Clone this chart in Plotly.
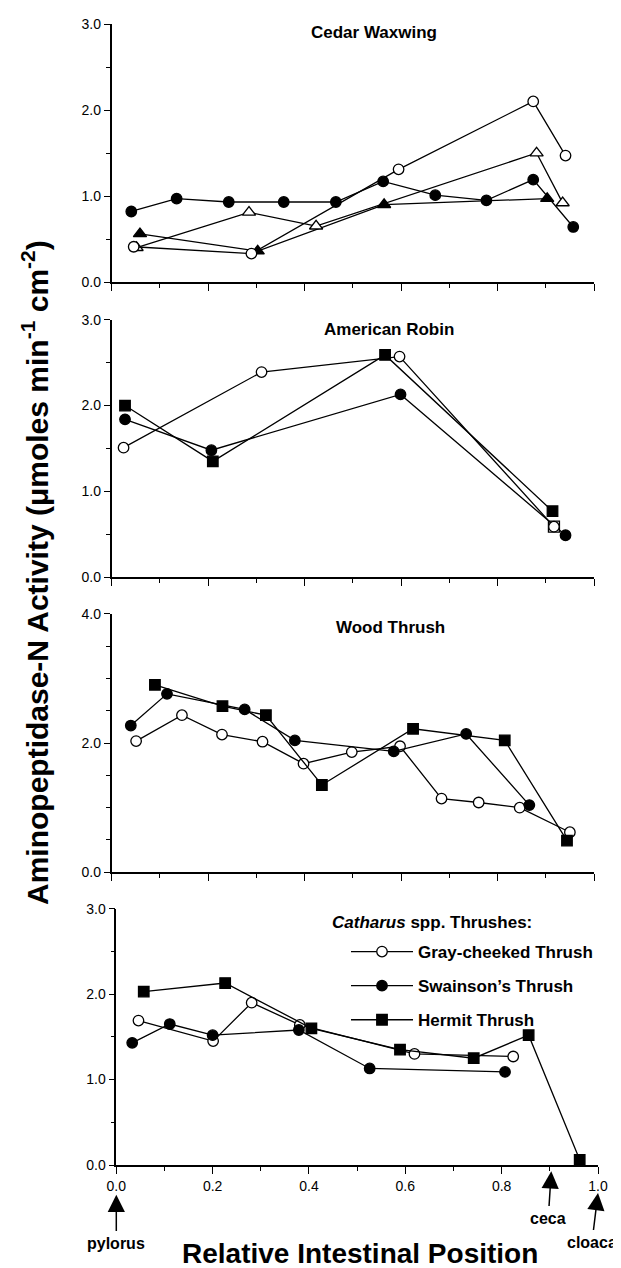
import plotly.graph_objects as go

# ---------------- data ----------------
# Cedar Waxwing
cw_oc_x = [0.046, 0.290, 0.595, 0.874, 0.941]
cw_oc_y = [0.41, 0.33, 1.31, 2.10, 1.47]
cw_fc_x = [0.041, 0.135, 0.243, 0.357, 0.465, 0.563, 0.671, 0.777, 0.874, 0.957]
cw_fc_y = [0.82, 0.97, 0.93, 0.93, 0.93, 1.17, 1.01, 0.95, 1.19, 0.64]
cw_ot_x = [0.052, 0.285, 0.424, 0.881, 0.935]
cw_ot_y = [0.40, 0.81, 0.65, 1.50, 0.92]
cw_ft_x = [0.059, 0.303, 0.565, 0.903]
cw_ft_y = [0.56, 0.36, 0.90, 0.97]

# American Robin
ar_oc_x = [0.025, 0.311, 0.597, 0.917]
ar_oc_y = [1.51, 2.39, 2.57, 0.59]
ar_fc_x = [0.028, 0.207, 0.599, 0.941]
ar_fc_y = [1.84, 1.48, 2.13, 0.49]
ar_fs_x = [0.028, 0.210, 0.567, 0.914]
ar_fs_y = [2.00, 1.35, 2.59, 0.77]
ar_os_x = [0.917]
ar_os_y = [0.59]

# Wood Thrush
wt_oc_x = [0.051, 0.146, 0.229, 0.313, 0.398, 0.498, 0.598, 0.684, 0.761, 0.846, 0.950]
wt_oc_y = [2.03, 2.43, 2.13, 2.02, 1.68, 1.86, 1.95, 1.14, 1.08, 1.00, 0.62]
wt_fc_x = [0.040, 0.115, 0.276, 0.380, 0.585, 0.735, 0.866]
wt_fc_y = [2.27, 2.76, 2.52, 2.04, 1.87, 2.14, 1.04]
wt_fs_x = [0.090, 0.230, 0.320, 0.436, 0.625, 0.815, 0.944]
wt_fs_y = [2.90, 2.57, 2.43, 1.35, 2.22, 2.04, 0.49]

# Catharus spp.
gc_x = [0.046, 0.201, 0.281, 0.381, 0.619, 0.824]
gc_y = [1.69, 1.45, 1.90, 1.64, 1.30, 1.27]
sw_x = [0.033, 0.111, 0.200, 0.379, 0.526, 0.807]
sw_y = [1.43, 1.65, 1.52, 1.58, 1.13, 1.09]
he_x = [0.057, 0.226, 0.405, 0.589, 0.742, 0.856, 0.962]
he_y = [2.03, 2.13, 1.60, 1.35, 1.25, 1.52, 0.06]

panel_titles = ["Cedar Waxwing", "American Robin", "Wood Thrush"]
legend_names = ["Gray-cheeked Thrush", "Swainson\u2019s Thrush", "Hermit Thrush"]
y_tick_sets = [[0, 1, 2, 3], [0, 1, 2, 3], [0, 2, 4], [0, 1, 2, 3]]
y_ranges = [[0, 3], [0, 3], [0, 4], [0, 3]]
x_ticks = [0.0, 0.2, 0.4, 0.6, 0.8, 1.0]
landmarks = ["pylorus", "ceca", "cloaca"]
landmark_x = [0.0, 0.903, 1.0]

# ---------------- layout helpers ----------------
W, H = 621, 1268
L, R, T, B = 103, 590, 16, 1157
FONT = "Liberation Sans, Arial, Helvetica, sans-serif"


def fx(p):
    return (p - L) / (R - L)


def fy(p):
    return (B - p) / (B - T)


ydoms = [[fy(274), fy(16)], [fy(569.3), fy(311.7)], [fy(864.3), fy(605.7)], [0.0, fy(900.7)]]
xdoms = [[fx(103.5), fx(586)]] * 3 + [[fx(108.3), 1.0]]

LW = 1.3
MS = 10.5


def mk(symbol, filled, size=MS):
    return dict(symbol=symbol, size=size,
                color="black" if filled else "white",
                line=dict(color="black", width=LW))


fig = go.Figure()


def add(x, y, panel, symbol, filled, name=None, size=MS, legend=False, mode="lines+markers"):
    ax = "" if panel == 1 else str(panel)
    fig.add_trace(go.Scatter(
        x=x, y=y, mode=mode, name=name, showlegend=legend,
        legendgroup=name if legend else None,
        line=dict(color="black", width=LW),
        marker=mk(symbol, filled, size),
        xaxis="x" + ax, yaxis="y" + ax, cliponaxis=False,
    ))


# panel 1
add(cw_fc_x, cw_fc_y, 1, "circle", True)
add(cw_ft_x, cw_ft_y, 1, "triangle-up", True, size=11.5)
add(cw_ot_x, cw_ot_y, 1, "triangle-up", False, size=11.5)
add(cw_oc_x, cw_oc_y, 1, "circle", False)
# panel 2
add(ar_os_x, ar_os_y, 2, "square", False, size=11, mode="markers")
add(ar_fc_x, ar_fc_y, 2, "circle", True)
add(ar_fs_x, ar_fs_y, 2, "square", True)
add(ar_oc_x, ar_oc_y, 2, "circle", False)
# panel 3
add(wt_oc_x, wt_oc_y, 3, "circle", False)
add(wt_fc_x, wt_fc_y, 3, "circle", True)
add(wt_fs_x, wt_fs_y, 3, "square", True)
# panel 4
add(gc_x, gc_y, 4, "circle", False, name=legend_names[0], legend=True)
add(sw_x, sw_y, 4, "circle", True, name=legend_names[1], legend=True)
add(he_x, he_y, 4, "square", True, name=legend_names[2], legend=True)

layout = dict(
    width=W, height=H,
    margin=dict(l=L, r=W - R, t=T, b=H - B, pad=0, autoexpand=False),
    paper_bgcolor="white", plot_bgcolor="white",
    font=dict(family=FONT, color="black", size=14),
    showlegend=True,
    legend=dict(
        x=fx(338), y=fy(926), xanchor="left", yanchor="top",
        bgcolor="rgba(0,0,0,0)", borderwidth=0,
        font=dict(family=FONT, size=17, color="black", weight="bold"),
        itemwidth=62, tracegroupgap=9,
        traceorder="grouped",
    ),
)

for i in range(4):
    s = "" if i == 0 else str(i + 1)
    layout["xaxis" + s] = dict(
        domain=xdoms[i], range=[0, 1], anchor="y" + s, automargin=False,
        showline=True, linecolor="black", linewidth=1.5,
        showgrid=False, zeroline=False,
        ticks="outside", tickvals=x_ticks, ticklen=7, tickwidth=1.3, tickcolor="black",
        minor=dict(dtick=0.1, ticks="outside", ticklen=4, tickwidth=1.2, tickcolor="black"),
        showticklabels=(i == 3), tickformat=".1f",
        tickfont=dict(size=14, family=FONT, color="black"),
    )
    layout["yaxis" + s] = dict(
        domain=ydoms[i], range=y_ranges[i], anchor="x" + s, automargin=False,
        showline=True, linecolor="black", linewidth=1.5,
        showgrid=False, zeroline=False,
        ticks="outside", tickvals=y_tick_sets[i], ticklen=6, tickwidth=1.2, tickcolor="black",
        minor=dict(dtick=0.5, ticks="outside", ticklen=4, tickwidth=1.2, tickcolor="black"),
        tickformat=".1f", tickfont=dict(size=14, family=FONT, color="black"),
    )

fig.update_layout(**layout)

ann = []
title_pos = [(365.6, 24), (381, 321.7), (382, 620)]
for t, (px_, py_) in zip(panel_titles, title_pos):
    ann.append(dict(text="<b>%s</b>" % t, x=fx(px_), y=fy(py_), xref="paper", yref="paper",
                    xanchor="center", yanchor="middle", showarrow=False,
                    font=dict(family=FONT, size=17, color="black")))

ann.append(dict(text="<b><i>Catharus</i> spp. Thrushes:</b>", x=fx(322), y=fy(914),
                xref="paper", yref="paper", xanchor="left", yanchor="middle", showarrow=False,
                font=dict(family=FONT, size=17, color="black")))

# y-axis title
ann.append(dict(text="<b>Aminopeptidase-N Activity (\u03bcmoles min<sup>-1</sup> cm<sup>-2</sup>)</b>",
                x=fx(27), y=fy(565), xref="paper", yref="paper", textangle=-90,
                xanchor="center", yanchor="middle", showarrow=False,
                font=dict(family=FONT, size=30, color="black")))
# x-axis title
ann.append(dict(text="<b>Relative Intestinal Position</b>", x=fx(351.6), y=fy(1245),
                xref="paper", yref="paper", xanchor="center", yanchor="middle", showarrow=False,
                font=dict(family=FONT, size=28, color="black")))

# landmark arrows: (arrow tip y, text centre y, horizontal text offset)
tips = [1186.7, 1163.3, 1185]
text_y = [1235, 1210, 1234]
text_dx = [0, -3, -6]
for lab, xv, tip, ty, dx in zip(landmarks, landmark_x, tips, text_y, text_dx):
    ann.append(dict(text="<b>%s</b>" % lab, x=xv, y=fy(tip), xref="x4", yref="paper",
                    ax=dx, ay=ty - tip, showarrow=True, arrowhead=2, arrowsize=2.3,
                    arrowwidth=1.5, arrowcolor="black", standoff=0, startstandoff=2,
                    font=dict(family=FONT, size=16, color="black")))

fig.update_layout(annotations=ann)
fig.write_html("out.html")
